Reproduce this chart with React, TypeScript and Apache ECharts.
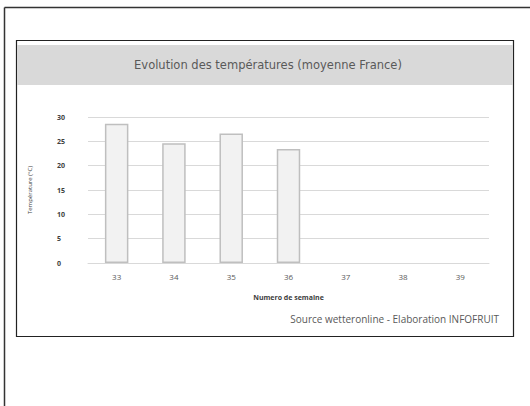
import React, { useEffect, useRef } from "react";
import * as echarts from "echarts";

const weeks = ["33", "34", "35", "36", "37", "38", "39"];
const temps: (number | null)[] = [28.6, 24.6, 26.6, 23.4, null, null, null];
const titleText = "Evolution des températures (moyenne France)";
const yTitle = "Température (°C)";
const xTitle = "Numero de semaine";
const sourceText = "Source wetteronline - Elaboration INFOFRUIT";

export default function App() {
  const ref = useRef<HTMLDivElement>(null);
  useEffect(() => {
    const chart = echarts.init(ref.current!, undefined, { renderer: "svg" });
    chart.setOption({
      animation: false,
      backgroundColor: "#ffffff",
      graphic: [
        { type: "line", shape: { x1: 4.5, y1: 7.5, x2: 530, y2: 7.5 }, style: { stroke: "#333", lineWidth: 1.5 } },
        { type: "line", shape: { x1: 4.5, y1: 7.5, x2: 4.5, y2: 406 }, style: { stroke: "#333", lineWidth: 1.5 } },
        { type: "rect", shape: { x: 16.5, y: 40.5, width: 497, height: 296 }, style: { fill: "none", stroke: "#222", lineWidth: 1.2 } },
        { type: "rect", shape: { x: 17, y: 45, width: 496, height: 40 }, style: { fill: "#d9d9d9", stroke: "none" } },
        {
          type: "text", x: 268, y: 65,
          style: { text: titleText, fill: "#595959", font: "11.5px 'DejaVu Sans', sans-serif", align: "center", verticalAlign: "middle" },
        },
        {
          type: "text", x: 499, y: 319,
          style: { text: sourceText, fill: "#595959", font: "10px 'Open Sans', sans-serif", align: "right", verticalAlign: "middle" },
        },
      ],
      grid: { left: 88, right: 41, top: 117, bottom: 143, containLabel: false },
      xAxis: {
        type: "category",
        data: weeks,
        name: xTitle,
        nameLocation: "middle",
        nameGap: 31,
        nameTextStyle: { fontSize: 7, fontWeight: "bold", color: "#404040", fontFamily: "'Open Sans', sans-serif" },
        axisLine: { lineStyle: { color: "#d9d9d9", width: 1 } },
        axisTick: { show: false },
        axisLabel: { fontSize: 8, color: "#595959", margin: 9, fontFamily: "'Open Sans', sans-serif" },
      },
      yAxis: {
        type: "value",
        min: 0,
        max: 30,
        interval: 5,
        name: yTitle,
        nameLocation: "middle",
        nameGap: 55,
        nameTextStyle: { fontSize: 6, color: "#404040", fontFamily: "'Open Sans', sans-serif" },
        axisLine: { show: false },
        axisTick: { show: false },
        splitLine: { lineStyle: { color: "#d9d9d9", width: 1 } },
        axisLabel: { fontSize: 7, fontWeight: "bold", color: "#404040", margin: 31, align: "left", fontFamily: "'Open Sans', sans-serif" },
      },
      series: [
        {
          type: "bar",
          data: temps,
          barWidth: "41%",
          itemStyle: { color: "#f2f2f2", borderColor: "#bfbfbf", borderWidth: 1.5 },
        },
      ],
    });
    return () => chart.dispose();
  }, []);
  return <div ref={ref} style={{ position: "fixed", left: 0, top: 0, width: 530, height: 406 }} />;
}
